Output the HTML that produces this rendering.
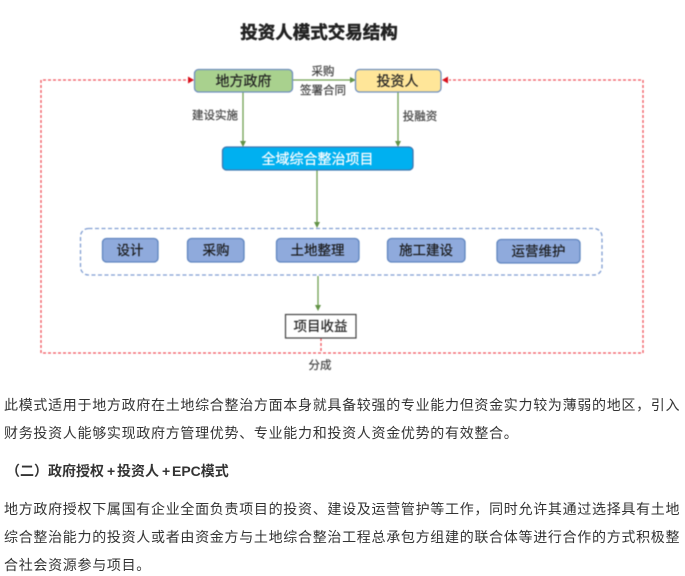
<!DOCTYPE html>
<html>
<head>
<meta charset="utf-8">
<style>
html,body{margin:0;padding:0;background:#fff;width:685px;height:576px;overflow:hidden}
body{position:relative;font-family:"Liberation Sans","Noto Sans CJK SC",sans-serif}
svg{position:absolute;left:0;top:0;filter:blur(.4px)}
svg text{font-family:"Liberation Sans","Noto Sans CJK SC",sans-serif;text-anchor:middle;stroke:currentColor;stroke-width:.2px}
.l{position:absolute;left:4px;white-space:nowrap;font-size:14px;line-height:20px;letter-spacing:.7px;color:#333}
.b{position:absolute;top:461px;white-space:nowrap;font-size:14px;line-height:20px;font-weight:700;color:#333}
</style>
</head>
<body>
<svg width="685" height="576" viewBox="0 0 685 576">
<text x="319" y="38.500" font-size="17.500" font-weight="700" fill="#222" color="#222" style="stroke-width:.5px">投资人模式交易结构</text>

<g fill="none" stroke="#f0505a" stroke-width="1.300" stroke-dasharray="3 2">
<path d="M186 80H41V353H643V80H449"/>
<path d="M321 338V353"/>
</g>
<path d="M194 80l-6-3.500v7z" fill="#d8111c"/>
<path d="M442 80l6-3.500v7z" fill="#d8111c"/>

<g fill="none" stroke="#70a050" stroke-width="1.300">
<path d="M293 80H350"/>
<path d="M243 92V142"/>
<path d="M398 92V142"/>
<path d="M317 170V223"/>
<path d="M318 276V305"/>
</g>
<g fill="#629347">
<path d="M356 80l-6-3v6z"/>
<path d="M243 147l-3-6h6z"/>
<path d="M398 147l-3-6h6z"/>
<path d="M317 228l-3-6h6z"/>
<path d="M318 311l-3-6h6z"/>
</g>

<rect x="194.500" y="69.500" width="98" height="22.500" rx="4" fill="#a9d18e" stroke="#6f8fbe" stroke-width="1.300"/>
<rect x="355.500" y="69.500" width="85.500" height="22.500" rx="4" fill="#ffe699" stroke="#6f8fbe" stroke-width="1.300"/>
<rect x="222.500" y="147" width="190.500" height="23" rx="4" fill="#00b0f0" stroke="#3f77b0" stroke-width="1.300"/>
<text x="243.500" y="86" font-size="14" fill="#222" color="#222">地方政府</text>
<text x="397.500" y="86" font-size="14" fill="#222" color="#222">投资人</text>
<text x="317.500" y="164" font-size="14" fill="#fff" color="#fff">全域综合整治项目</text>

<g font-size="11.500" fill="#444" color="#444">
<text x="323" y="75">采购</text>
<text x="323" y="94">签署合同</text>
<text x="215" y="119">建设实施</text>
<text x="420" y="120">投融资</text>
</g>

<rect x="80.500" y="228.500" width="521.500" height="46.500" rx="8" fill="none" stroke="#7f9dd2" stroke-width="1.300" stroke-dasharray="4 2.500"/>

<g fill="#8faadc" stroke="#5f85bf" stroke-width="1.300">
<rect x="102.500" y="238.500" width="55.500" height="23.500" rx="4"/>
<rect x="187.500" y="238.500" width="56.500" height="23.500" rx="4"/>
<rect x="276.500" y="238.500" width="82.500" height="23.500" rx="4"/>
<rect x="387.500" y="238.500" width="77.500" height="23.500" rx="4"/>
<rect x="497" y="239.500" width="83" height="23.500" rx="4"/>
</g>
<g font-size="13.500" fill="#1a1a1a" color="#1a1a1a">
<text x="130" y="255">设计</text>
<text x="216" y="255">采购</text>
<text x="317.500" y="255">土地整理</text>
<text x="426" y="255">施工建设</text>
<text x="538.500" y="256">运营维护</text>
</g>

<rect x="285.500" y="314.500" width="70.500" height="23.500" fill="#fff" stroke="#444" stroke-width="1.200"/>
<text x="320.500" y="331" font-size="13.500" fill="#222" color="#222">项目收益</text>
<text x="320" y="369" font-size="11.500" fill="#444" color="#444">分成</text>
</svg>

<div class="l" style="top:395px">此模式适用于地方政府在土地综合整治方面本身就具备较强的专业能力但资金实力较为薄弱的地区，引入</div>
<div class="l" style="top:423px">财务投资人能够实现政府方管理优势、专业能力和投资人资金优势的有效整合。</div>
<div class="b" style="left:6px">（二）</div>
<div class="b" style="left:48px">政府授权</div>
<div class="b" style="left:107px">+</div>
<div class="b" style="left:117px">投资人</div>
<div class="b" style="left:162px">+</div>
<div class="b" style="left:172px">EPC模式</div>
<div class="l" style="top:499px">地方政府授权下属国有企业全面负责项目的投资、建设及运营管护等工作，同时允许其通过选择具有土地</div>
<div class="l" style="top:527px">综合整治能力的投资人或者由资金方与土地综合整治工程总承包方组建的联合体等进行合作的方式积极整</div>
<div class="l" style="top:555px">合社会资源参与项目。</div>
</body>
</html>
